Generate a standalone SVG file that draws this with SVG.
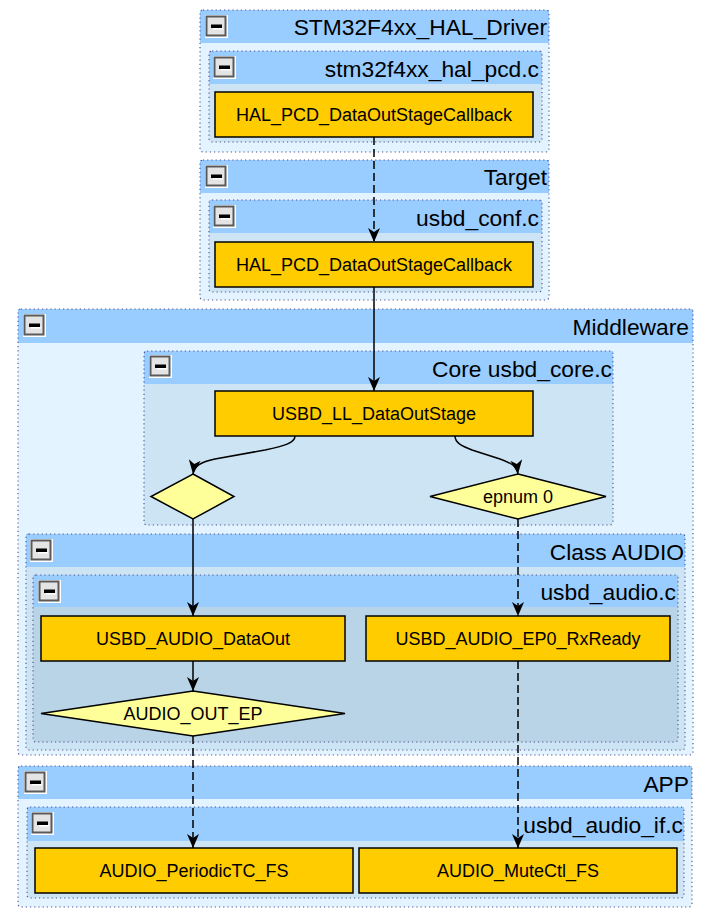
<svg xmlns="http://www.w3.org/2000/svg" xmlns:xlink="http://www.w3.org/1999/xlink" width="717" height="923" viewBox="0 0 717 923">
<style>
  .l1 { fill: #E3F3FF; }
  .l2 { fill: #CCE4F4; }
  .l3 { fill: #B8D4E6; }
  .hdr { fill: #99CCFF; }
  .brd { fill: none; stroke: #50508F; stroke-width: 1.1; stroke-dasharray: 1.2 3; }
  .htxt { font-family: "Liberation Sans", Arial, sans-serif; font-size: 22.8px; fill: #000; text-anchor: end; }
  .node { fill: #FFCC00; stroke: #000; stroke-width: 1.5; }
  .dec { fill: #FFFF99; stroke: #000; stroke-width: 1.5; }
  .ntxt { font-family: "Liberation Sans", Arial, sans-serif; font-size: 18px; fill: #000; text-anchor: middle; }
  .edge { fill: none; stroke: #000; stroke-width: 1.5; }
  .dash { stroke-dasharray: 8 4; }
</style>
<defs>
  <marker id="arr" markerUnits="userSpaceOnUse" viewBox="0 0 14 12" refX="14" refY="6" markerWidth="14" markerHeight="12" orient="auto">
    <path d="M0,0 L14,6 L0,12 L4,6 Z" fill="#000"/>
  </marker>
  <g id="btn">
    <rect x="0" y="0" width="23" height="23" fill="#FFFFFF"/>
    <rect x="1.5" y="1.5" width="19" height="19" fill="#E4E4E4" stroke="#5A5A5A" stroke-width="2"/>
    <rect x="6" y="9.5" width="11" height="3.5" fill="#000"/>
    <rect x="8" y="13" width="10" height="1.5" fill="#FFFFFF"/>
  </g>
</defs>

<!-- STM32F4xx_HAL_Driver -->
<g id="c-stm32">
  <rect class="l1" x="200" y="10" width="349" height="142" rx="3"/>
  <rect class="hdr" x="200" y="10" width="349" height="33"/>
  <rect class="brd" x="200" y="10" width="349" height="142" rx="3"/>
  <use xlink:href="#btn" x="205" y="15"/>
  <text class="htxt" x="547" y="35">STM32F4xx_HAL_Driver</text>
</g>
<g id="c-pcd">
  <rect class="l2" x="209" y="51" width="333" height="91" rx="3"/>
  <rect class="hdr" x="209" y="51" width="333" height="33"/>
  <rect class="brd" x="209" y="51" width="333" height="91" rx="3"/>
  <use xlink:href="#btn" x="213" y="56"/>
  <text class="htxt" x="539" y="77">stm32f4xx_hal_pcd.c</text>
</g>
<g id="n-hal1">
  <rect class="node" x="215" y="92" width="318" height="45"/>
  <text class="ntxt" x="374" y="121">HAL_PCD_DataOutStageCallback</text>
</g>

<!-- Target -->
<g id="c-target">
  <rect class="l1" x="200" y="160" width="349" height="140" rx="3"/>
  <rect class="hdr" x="200" y="160" width="349" height="33"/>
  <rect class="brd" x="200" y="160" width="349" height="140" rx="3"/>
  <use xlink:href="#btn" x="205" y="165"/>
  <text class="htxt" x="547" y="185">Target</text>
</g>
<g id="c-conf">
  <rect class="l2" x="209" y="200" width="333" height="92" rx="3"/>
  <rect class="hdr" x="209" y="200" width="333" height="33"/>
  <rect class="brd" x="209" y="200" width="333" height="92" rx="3"/>
  <use xlink:href="#btn" x="213" y="205"/>
  <text class="htxt" x="539" y="226">usbd_conf.c</text>
</g>
<g id="n-hal2">
  <rect class="node" x="215" y="242" width="318" height="45"/>
  <text class="ntxt" x="374" y="271">HAL_PCD_DataOutStageCallback</text>
</g>

<!-- Middleware -->
<g id="c-middleware">
  <rect class="l1" x="18" y="309" width="675" height="446" rx="3"/>
  <rect class="hdr" x="18" y="309" width="675" height="34"/>
  <rect class="brd" x="18" y="309" width="675" height="446" rx="3"/>
  <use xlink:href="#btn" x="23" y="314"/>
  <text class="htxt" x="689" y="335">Middleware</text>
</g>
<g id="c-core">
  <rect class="l2" x="144" y="351" width="469" height="174" rx="3"/>
  <rect class="hdr" x="144" y="351" width="469" height="33"/>
  <rect class="brd" x="144" y="351" width="469" height="174" rx="3"/>
  <use xlink:href="#btn" x="149" y="355"/>
  <text class="htxt" x="612" y="377">Core usbd_core.c</text>
</g>
<g id="n-ll">
  <rect class="node" x="215" y="391" width="318" height="45"/>
  <text class="ntxt" x="374" y="420">USBD_LL_DataOutStage</text>
</g>
<g id="d-left">
  <polygon class="dec" points="193,474 234,496.5 193,519 151,496.5"/>
</g>
<g id="d-epnum">
  <polygon class="dec" points="518,474 606,496.5 518,519 430,496.5"/>
  <text class="ntxt" x="518" y="503">epnum 0</text>
</g>
<g id="c-class">
  <rect class="l2" x="26" y="534" width="659" height="216" rx="3"/>
  <rect class="hdr" x="26" y="534" width="659" height="33"/>
  <rect class="brd" x="26" y="534" width="659" height="216" rx="3"/>
  <use xlink:href="#btn" x="30" y="539"/>
  <text class="htxt" x="684" y="560">Class AUDIO</text>
</g>
<g id="c-audio">
  <rect class="l3" x="33" y="575" width="645" height="167" rx="3"/>
  <rect class="hdr" x="33" y="575" width="645" height="32"/>
  <rect class="brd" x="33" y="575" width="645" height="167" rx="3"/>
  <use xlink:href="#btn" x="38" y="580"/>
  <text class="htxt" x="676" y="600">usbd_audio.c</text>
</g>
<g id="n-dataout">
  <rect class="node" x="41" y="616" width="304" height="45"/>
  <text class="ntxt" x="193" y="645">USBD_AUDIO_DataOut</text>
</g>
<g id="n-rxready">
  <rect class="node" x="366" y="616" width="304" height="45"/>
  <text class="ntxt" x="518" y="645">USBD_AUDIO_EP0_RxReady</text>
</g>
<g id="d-outep">
  <polygon class="dec" points="193,691 345,713.5 193,736 41,713.5"/>
  <text class="ntxt" x="193" y="720">AUDIO_OUT_EP</text>
</g>

<!-- APP -->
<g id="c-app">
  <rect class="l1" x="18" y="766" width="674" height="141" rx="3"/>
  <rect class="hdr" x="18" y="766" width="674" height="33"/>
  <rect class="brd" x="18" y="766" width="674" height="141" rx="3"/>
  <use xlink:href="#btn" x="24" y="771"/>
  <text class="htxt" x="689" y="792">APP</text>
</g>
<g id="c-if">
  <rect class="l2" x="27" y="807" width="657" height="91" rx="3"/>
  <rect class="hdr" x="27" y="807" width="657" height="34"/>
  <rect class="brd" x="27" y="807" width="657" height="91" rx="3"/>
  <use xlink:href="#btn" x="31" y="812"/>
  <text class="htxt" x="683" y="833">usbd_audio_if.c</text>
</g>
<g id="n-periodic">
  <rect class="node" x="35" y="848" width="318" height="45"/>
  <text class="ntxt" x="194" y="877">AUDIO_PeriodicTC_FS</text>
</g>
<g id="n-mute">
  <rect class="node" x="359" y="848" width="318" height="45"/>
  <text class="ntxt" x="518" y="877">AUDIO_MuteCtl_FS</text>
</g>

<!-- Connectors -->
<g id="edges">
  <path class="edge dash" d="M374,137 L374,242" marker-end="url(#arr)"/>
  <path class="edge" d="M374,287 L374,391" marker-end="url(#arr)"/>
  <path class="edge" d="M295,436 C295,443 284,446 265,450 L215,459 C201,462 194,466 193,474" marker-end="url(#arr)"/>
  <path class="edge" d="M455,436 C455,443 462,446 472,450 L500,459 C511,463 517,466 518,474" marker-end="url(#arr)"/>
  <path class="edge" d="M193,519 L193,616" marker-end="url(#arr)"/>
  <path class="edge dash" d="M518,519 L518,616" marker-end="url(#arr)"/>
  <path class="edge" d="M193,661 L193,691" marker-end="url(#arr)"/>
  <path class="edge dash" d="M193,736 L193,848" marker-end="url(#arr)"/>
  <path class="edge dash" d="M518,661 L518,848" marker-end="url(#arr)"/>
</g>
</svg>
